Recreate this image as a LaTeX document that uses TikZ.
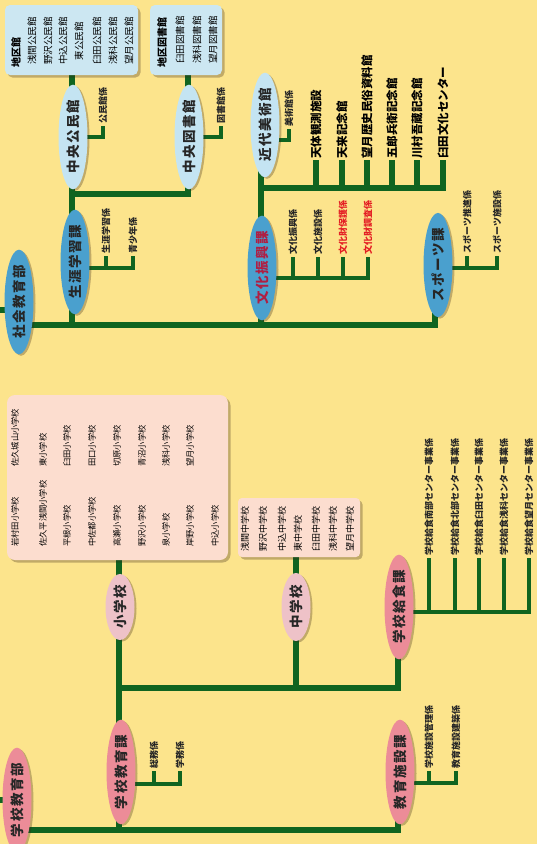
\documentclass[tikz,border=0pt]{standalone}
\usepackage{fontspec}
\setmainfont{Noto Sans CJK JP}
\usetikzlibrary{shapes.geometric,shadows,backgrounds}
\definecolor{bg}{RGB}{252,228,140}
\definecolor{lg}{RGB}{16,100,32}
\definecolor{bdark}{RGB}{74,160,206}
\definecolor{blight}{RGB}{196,228,242}
\definecolor{pdark}{RGB}{236,140,152}
\definecolor{plight}{RGB}{238,194,200}
\definecolor{boxblue}{RGB}{204,231,242}
\definecolor{boxpeach}{RGB}{252,221,207}
\definecolor{txtred}{RGB}{228,30,36}
\definecolor{bunkared}{RGB}{176,30,66}
\tikzset{
  ln/.style={draw=lg, line width=6pt, line cap=rect},
  sln/.style={draw=lg, line width=4.5pt, line cap=rect},
  ell/.style={ellipse, rotate=90, inner sep=0pt, minimum width=#1, minimum height=29pt,
    font=\fontsize{13.5}{13.5}\selectfont\bfseries\addfontfeature{LetterSpace=12},
    text=black!85,
    drop shadow={shadow xshift=2pt, shadow yshift=-1.5pt, opacity=.3, fill=black!70!brown}},
  ell/.default=88pt,
  eb/.style={ell, fill=bdark},
  el/.style={ell, fill=blight},
  ep/.style={ell, fill=pdark},
  eq/.style={ell, fill=plight},
  boxs/.style={rounded corners=#1, inner sep=0pt,
    drop shadow={shadow xshift=2.5pt, shadow yshift=-2.5pt, opacity=.3, fill=black!70!brown}},
  boxs/.default=5pt,
  lbl/.style={rotate=90, anchor=west, inner sep=0pt, font=\fontsize{9}{9}\selectfont\bfseries, text=black!85},
  ent/.style={rotate=90, inner sep=0pt, font=\fontsize{9.5}{9.5}\selectfont},
  sch/.style={rotate=90, anchor=west, inner sep=0pt, font=\fontsize{8.3}{8.3}\selectfont},
  fac/.style={rotate=90, anchor=west, inner sep=0pt, font=\fontsize{11.5}{11.5}\selectfont\bfseries},
}
\begin{document}
\begin{tikzpicture}[x=1pt,y=-1pt]
\useasboundingbox (0,0) rectangle (537,844);

% ---------- boxes ----------
\node[boxs, fill=boxblue, minimum width=133pt, minimum height=70pt] (chiku) at (71.5,40) {};
\node[boxs, fill=boxblue, minimum width=72pt, minimum height=70pt] (chikutosho) at (186,40) {};
\node[boxs=8pt, fill=boxpeach, minimum width=221pt, minimum height=165pt] (shobox) at (117.5,477.5) {};
\node[boxs=4pt, fill=boxpeach, minimum width=122pt, minimum height=59pt] (chubox) at (299,527.5) {};

% ---------- ellipses ----------
\node[eb, minimum width=90pt] (shakai) at (19,302) {社会教育部};
\node[eb] (shogai) at (75,262) {生涯学習課};
\node[el] (kominkan) at (73,137) {中央公民館};
\node[el] (toshokan) at (189,137) {中央図書館};
\node[eb, text=bunkared] (bunka) at (262,268) {文化振興課};
\node[el] (bijutsu) at (265,125) {近代美術館};
\node[eb, minimum width=95pt] (sports) at (438,265) {スポーツ課};

\node[ep, minimum width=88pt] (gakko) at (17,800) {学校教育部};
\node[ep] (kyoiku) at (121,772) {学校教育課};
\node[eq, minimum width=66pt] (sho) at (120,607) {小学校};
\node[eq, minimum width=68pt] (chu) at (296,607) {中学校};
\node[ep] (kyushoku) at (399,607) {学校給食課};
\node[ep] (shisetsu) at (400,772) {教育施設課};

% ---------- junction coordinates ----------
\coordinate (inA) at (0,310);
\coordinate (inB) at (0,800);
\coordinate (tA) at (19,325);
\coordinate (tB) at (72,325);
\coordinate (tC) at (261,325);
\coordinate (tD) at (435,325);
\coordinate (tE) at (72,194);
\coordinate (tF) at (188,194);
\coordinate (tG) at (261,188);
\coordinate (tH) at (443,188);
\coordinate (bA) at (17,830);
\coordinate (bB) at (119,830);
\coordinate (bC) at (398,830);
\coordinate (bD) at (119,688);
\coordinate (bE) at (296,688);
\coordinate (bF) at (398,688);
% stub start points
\coordinate (sKo) at (73,137);
\coordinate (sTo) at (189,137);
\coordinate (sBi) at (265,140);
\coordinate (sSh) at (75,268);
\coordinate (sBu) at (262,278);
\coordinate (sSp) at (438,268);
\coordinate (sKy) at (121,784);
\coordinate (sSs) at (400,783);
\coordinate (sKs) at (399,612);

\begin{pgfonlayer}{background}
\fill[bg] (0,0) rectangle (537,844);
% trunk stubs
\draw[ln] (inA) -- (inA -| shakai.center);
\draw[ln] (inB) -- (gakko.center);
% social education
\draw[ln] (tA) -- (tD);
\draw[ln] (tB) -- (tB |- chiku.south);
\draw[ln] (tE) -- (tF) -- (tF |- chikutosho.south);
\draw[ln] (tC) -- (tC |- bijutsu.center);
\draw[ln] (tG) -- (tH);
\draw[ln] (tD) -- (tD |- sports.center);
\foreach \x in {316,342,367,392,417,443} \draw[ln] (\x,188) -- (\x,163);
% stubs
\draw[sln] (sKo) -- (103,137) -- (103,128);
\draw[sln] (sTo) -- (221,137) -- (221,128);
\draw[sln] (sBi) -- (289,140) -- (289,131);
\draw[sln] (sSh) -- (133,268) -- (133,258);
\draw[sln] (106,268) -- (106,258);
\draw[sln] (sBu) -- (368,278) -- (368,259);
\foreach \x in {293,318,343} \draw[sln] (\x,278) -- (\x,259);
\draw[sln] (sSp) -- (497,268) -- (497,258);
\draw[sln] (467,268) -- (467,258);
% school education
\draw[ln] (bA) -- (bC);
\draw[ln] (bB) -- (bB |- shobox.south);
\draw[ln] (bD) -- (bF);
\draw[ln] (bE) -- (bE |- chubox.south);
\draw[ln] (bF) -- (bF |- kyushoku.center);
\draw[ln] (bC) -- (bC |- shisetsu.center);
\draw[sln] (sKy) -- (180,784) -- (180,773);
\draw[sln] (154,784) -- (154,773);
\draw[sln] (sSs) -- (456,783) -- (456,773);
\draw[sln] (429,783) -- (429,773);
\draw[sln] (sKs) -- (529,612) -- (529,560);
\foreach \x in {429,455,479,504} \draw[sln] (\x,612) -- (\x,560);
\end{pgfonlayer}

% ---------- box contents ----------
\node[ent, anchor=west, font=\fontsize{10}{10}\selectfont\bfseries] (t1) at (16,68) {地区館};
\foreach \x/\t [count=\i] in {32/浅間公民館,48/野沢公民館,63/中込公民館,79/東公民館,97/臼田公民館,113/浅科公民館,129/望月公民館}
  \node[ent] (km\i) at (\x,41) {\t};
\node[ent, anchor=west, font=\fontsize{10}{10}\selectfont\bfseries] (t2) at (162,68) {地区図書館};
\foreach \x/\t [count=\i] in {180/臼田図書館,197/浅科図書館,213/望月図書館}
  \node[ent] (tb\i) at (\x,40) {\t};

\foreach \x/\t [count=\i] in {15/岩村田小学校,43/佐久平浅間小学校,67/平根小学校,92/中佐都小学校,117/高瀬小学校,142/野沢小学校,166/泉小学校,190/岸野小学校,215/中込小学校}
  \node[sch] (sa\i) at (\x,547) {\t};
\foreach \x/\t [count=\i] in {15/佐久城山小学校,43/東小学校,67/臼田小学校,92/田口小学校,117/切原小学校,142/青沼小学校,166/浅科小学校,190/望月小学校}
  \node[sch] (sb\i) at (\x,467) {\t};
\foreach \x/\t [count=\i] in {245/浅間中学校,263/野沢中学校,282/中込中学校,298/東中学校,316/臼田中学校,333/浅科中学校,350/望月中学校}
  \node[sch, font=\fontsize{9}{9}\selectfont] (ca\i) at (\x,552) {\t};

% ---------- labels ----------
\node[lbl] (l1) at (103,124) {公民館係};
\node[lbl] (l2) at (221,124) {図書館係};
\node[lbl] (l3) at (289,127) {美術館係};
\node[lbl] (l4) at (106,254) {生涯学習係};
\node[lbl] (l5) at (133,254) {青少年係};
\node[lbl] (l6) at (293,255) {文化振興係};
\node[lbl] (l7) at (318,255) {文化施設係};
\node[lbl, text=txtred] (l8) at (343,255) {文化財保護係};
\node[lbl, text=txtred] (l9) at (368,255) {文化財調査係};
\node[lbl] (l10) at (467,254) {スポーツ推進係};
\node[lbl] (l11) at (497,254) {スポーツ施設係};
\foreach \x/\t [count=\i] in {316/天体観測施設,342/天来記念館,367/望月歴史民俗資料館,392/五郎兵衛記念館,417/川村吾蔵記念館,443/臼田文化センター}
  \node[fac] (f\i) at (\x,159) {\t};
\node[lbl] (l12) at (154,769) {総務係};
\node[lbl] (l13) at (180,769) {学務係};
\node[lbl] (l14) at (429,769) {学校施設管理係};
\node[lbl] (l15) at (456,769) {教育施設建築係};
\foreach \x/\t [count=\i] in {429/学校給食南部センター事業係,455/学校給食北部センター事業係,479/学校給食臼田センター事業係,504/学校給食浅科センター事業係,529/学校給食望月センター事業係}
  \node[lbl] (k\i) at (\x,556) {\t};
\end{tikzpicture}
\end{document}
